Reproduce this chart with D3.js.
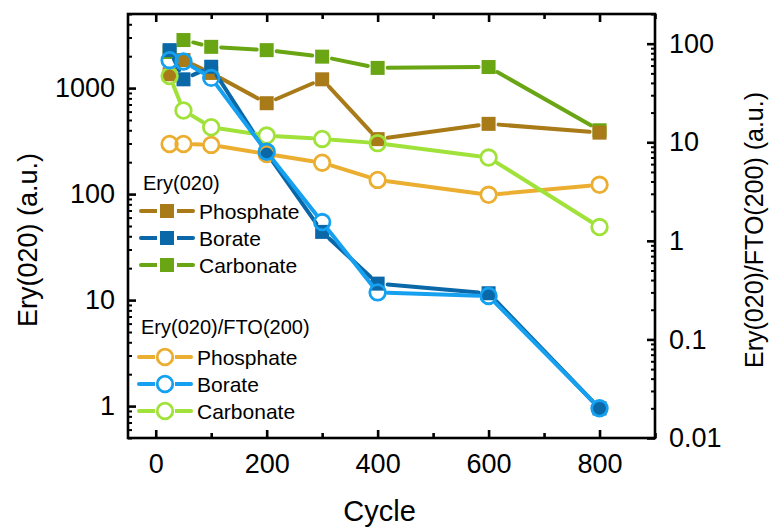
<!DOCTYPE html>
<html><head><meta charset="utf-8">
<script src="https://cdn.jsdelivr.net/npm/d3@7"></script>
<style>
body{margin:0;background:#fff}
text{font-family:"Liberation Sans",Arial,sans-serif;fill:#000}
</style>
</head><body>
<svg id="chart" width="773" height="527"></svg>
<script>
// Cycle numbers and measured intensities
const cycles = [25, 50, 100, 200, 300, 400, 600, 800];
const eryPhosphate = [1350, 1840, 1390, 720, 1210, 330, 460, 380];
const eryBorate = [2280, 1210, 1590, 244, 44, 14.3, 11.6, 0.95];
const eryCarbonate = [2190, 2840, 2450, 2280, 1980, 1550, 1580, 400];
const ratioPhosphate = [9.6, 9.6, 9.4, 7.6, 6.2, 4.15, 2.93, 3.7];
const ratioBorate = [68, 66, 45, 8.0, 1.55, 0.30, 0.276, 0.02];
const ratioCarbonate = [47, 21, 14.2, 11.7, 10.8, 9.8, 7.0, 1.38];
const xTicks = [0, 200, 400, 600, 800];
const leftTicks = [1, 10, 100, 1000];
const rightTicks = [0.01, 0.1, 1, 10, 100];
const seriesNames = ["Phosphate", "Borate", "Carbonate"];

const svg = d3.select("#chart");
const m = {left: 128, right: 655, top: 14, bottom: 438};

const x = d3.scaleLinear().domain([-50, 900]).range([m.left, m.right]);
const yL = d3.scaleLog().domain([0.5, 5000]).range([m.bottom, m.top]);
const yR = d3.scaleLog().domain([0.01, 200]).range([m.bottom, m.top]);

const colors = {
  eryPhosphate: "#A87A18", eryBorate: "#0A68A8", eryCarbonate: "#6AA614",
  ratioPhosphate: "#EBAE30", ratioBorate: "#16A0F0", ratioCarbonate: "#A0E23A"
};

function logMinor(domain) {
  const out = [];
  for (let e = -3; e <= 4; e++) for (let k = 1; k <= 9; k++) {
    const v = k * Math.pow(10, e);
    if (v >= domain[0] * 0.999 && v <= domain[1] * 1.001) out.push({v, major: k === 1});
  }
  return out;
}

const axisW = 2.6;
const tickFont = 27;
const g = svg.append("g");

// Frame ticks: all pointing into the plot
const xMinor = d3.range(0, 901, 100);
// bottom
g.append("g").attr("transform", `translate(0,${m.bottom})`)
  .call(d3.axisBottom(x).tickValues(xTicks).tickSize(-8).tickPadding(16).tickFormat(d3.format("d")))
  .call(s => s.select(".domain").remove())
  .call(s => s.selectAll("line").attr("stroke-width", axisW))
  .call(s => s.selectAll("text").attr("font-size", tickFont));
g.append("g").attr("transform", `translate(0,${m.bottom})`)
  .call(d3.axisBottom(x).tickValues(xMinor.filter(v => v % 200 !== 0)).tickSize(-5).tickFormat(""))
  .call(s => s.select(".domain").remove())
  .call(s => s.selectAll("line").attr("stroke-width", axisW));
// top
g.append("g").attr("transform", `translate(0,${m.top})`)
  .call(d3.axisTop(x).tickValues(xTicks).tickSize(-8).tickFormat(""))
  .call(s => s.select(".domain").remove())
  .call(s => s.selectAll("line").attr("stroke-width", axisW));
g.append("g").attr("transform", `translate(0,${m.top})`)
  .call(d3.axisTop(x).tickValues(xMinor.filter(v => v % 200 !== 0)).tickSize(-5).tickFormat(""))
  .call(s => s.select(".domain").remove())
  .call(s => s.selectAll("line").attr("stroke-width", axisW));

// left log axis
const lm = logMinor(yL.domain());
g.append("g").attr("transform", `translate(${m.left},0)`)
  .call(d3.axisLeft(yL).tickValues(leftTicks).tickSize(-8).tickPadding(13).tickFormat(d3.format("d")))
  .call(s => s.select(".domain").remove())
  .call(s => s.selectAll("line").attr("stroke-width", axisW))
  .call(s => s.selectAll("text").attr("font-size", tickFont));
g.append("g").attr("transform", `translate(${m.left},0)`)
  .call(d3.axisLeft(yL).tickValues(lm.filter(d => !d.major).map(d => d.v)).tickSize(-4).tickFormat(""))
  .call(s => s.select(".domain").remove())
  .call(s => s.selectAll("line").attr("stroke-width", 2));

// right log axis
const rm = logMinor(yR.domain());
g.append("g").attr("transform", `translate(${m.right},0)`)
  .call(d3.axisRight(yR).tickValues(rightTicks).tickSize(-8).tickPadding(14)
    .tickFormat(d => d >= 1 ? d3.format("d")(d) : String(d)))
  .call(s => s.select(".domain").remove())
  .call(s => s.selectAll("line").attr("stroke-width", axisW))
  .call(s => s.selectAll("text").attr("font-size", tickFont));
g.append("g").attr("transform", `translate(${m.right},0)`)
  .call(d3.axisRight(yR).tickValues(rm.filter(d => !d.major).map(d => d.v)).tickSize(-4).tickFormat(""))
  .call(s => s.select(".domain").remove())
  .call(s => s.selectAll("line").attr("stroke-width", 2));

// frame
g.append("rect").attr("x", m.left).attr("y", m.top)
  .attr("width", m.right - m.left).attr("height", m.bottom - m.top)
  .attr("fill", "none").attr("stroke", "#000").attr("stroke-width", axisW);

// axis titles
svg.append("text").attr("x", x(400) + 2).attr("y", 521).attr("text-anchor", "middle")
  .attr("font-size", 29).text("Cycle");
svg.append("text").attr("transform", `translate(37,${(m.top + m.bottom) / 2 + 14}) rotate(-90)`)
  .attr("text-anchor", "middle").attr("font-size", 27).text("Ery(020) (a.u.)");
svg.append("text").attr("transform", `translate(763,${(m.top + m.bottom) / 2 + 4}) rotate(-90)`)
  .attr("text-anchor", "middle").attr("font-size", 25).text("Ery(020)/FTO(200) (a.u.)");

// line segments with small gaps at each marker; circles are hollow
function drawSeries(vals, yScale, color, shape) {
  const pts = cycles.map((c, i) => [x(c), yScale(vals[i])]);
  const gap = 10;
  const layer = svg.append("g");
  for (let i = 0; i < pts.length - 1; i++) {
    const [x0, y0] = pts[i], [x1, y1] = pts[i + 1];
    const L = Math.hypot(x1 - x0, y1 - y0);
    if (L <= 2 * gap) continue;
    const ux = (x1 - x0) / L, uy = (y1 - y0) / L;
    layer.append("line")
      .attr("x1", x0 + ux * gap).attr("y1", y0 + uy * gap)
      .attr("x2", x1 - ux * gap).attr("y2", y1 - uy * gap)
      .attr("stroke", color).attr("stroke-width", 4).attr("stroke-linecap", "round");
  }
  pts.forEach(([px, py]) => drawMarker(layer, px, py, color, shape));
}
function drawMarker(layer, px, py, color, shape) {
  if (shape === "square") {
    layer.append("rect").attr("x", px - 7).attr("y", py - 7).attr("width", 14).attr("height", 14)
      .attr("fill", color);
  } else {
    layer.append("circle").attr("cx", px).attr("cy", py).attr("r", 7.8)
      .attr("fill", "none").attr("stroke", color).attr("stroke-width", 2.8);
  }
}

drawSeries(eryCarbonate, yL, colors.eryCarbonate, "square");
drawSeries(eryPhosphate, yL, colors.eryPhosphate, "square");
drawSeries(eryBorate, yL, colors.eryBorate, "square");
drawSeries(ratioPhosphate, yR, colors.ratioPhosphate, "circle");
drawSeries(ratioCarbonate, yR, colors.ratioCarbonate, "circle");
drawSeries(ratioBorate, yR, colors.ratioBorate, "circle");

// legends
function legendBlock(title, ty, rows, shape, x0, first, step) {
  const lg = svg.append("g");
  lg.append("text").attr("x", x0 + 2).attr("y", ty).attr("font-size", 20).text(title);
  rows.forEach((r, i) => {
    const cy = ty + first + i * step;
    lg.append("line").attr("x1", x0).attr("x2", x0 + 52).attr("y1", cy).attr("y2", cy)
      .attr("stroke", r.color).attr("stroke-width", 4).attr("stroke-linecap", "round");
    lg.append("rect").attr("x", x0 + 26 - 10).attr("y", cy - 8).attr("width", 20).attr("height", 16).attr("fill", "#fff");
    drawMarker(lg, x0 + 26, cy, r.color, shape);
    lg.append("text").attr("x", x0 + 58).attr("y", cy + 7.5).attr("font-size", 21).text(r.name);
  });
}
legendBlock("Ery(020)", 190, seriesNames.map((n, i) =>
  ({name: n, color: [colors.eryPhosphate, colors.eryBorate, colors.eryCarbonate][i]})), "square", 141, 21, 27);
legendBlock("Ery(020)/FTO(200)", 334, seriesNames.map((n, i) =>
  ({name: n, color: [colors.ratioPhosphate, colors.ratioBorate, colors.ratioCarbonate][i]})), "circle", 139, 23, 27);
</script>
</body></html>
